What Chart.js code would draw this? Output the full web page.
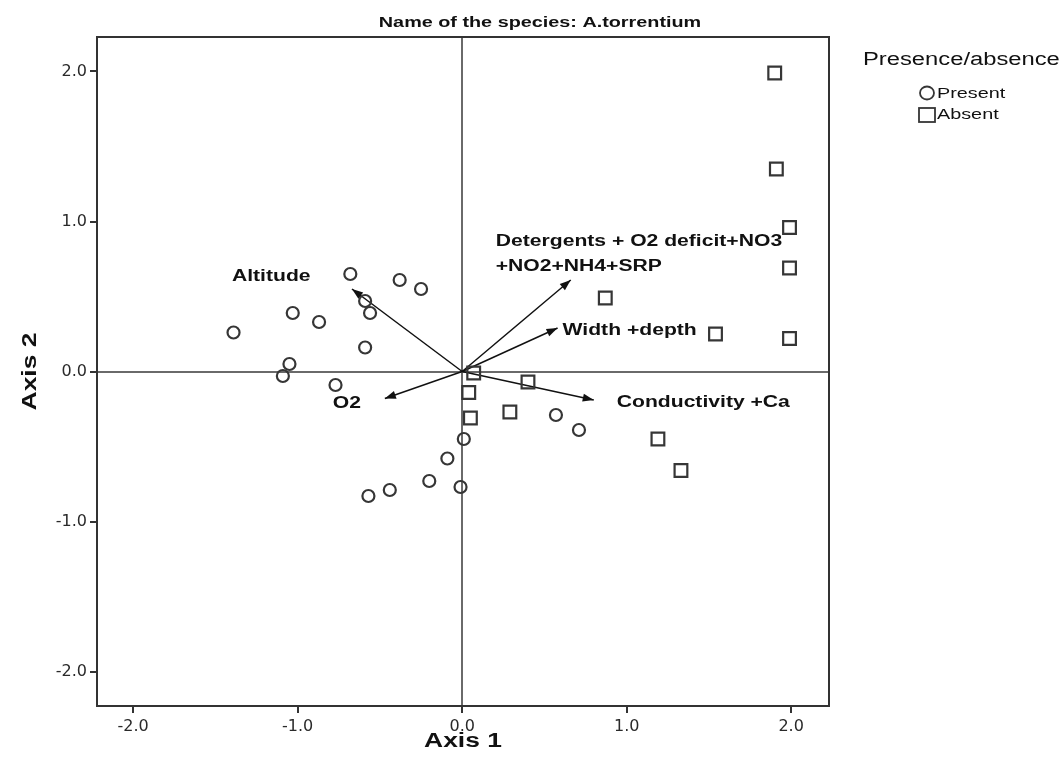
<!DOCTYPE html>
<html>
<head>
<meta charset="utf-8">
<script src="https://cdn.jsdelivr.net/npm/chart.js@4.4.1/dist/chart.umd.min.js"></script>
<style>
  body { margin: 0; background: #fff; }
  #wrap { width: 1064px; height: 777px; position: relative; }
</style>
</head>
<body>
<div id="wrap"><canvas id="chartCanvas"></canvas></div>
<script>
// site scores
const presentX = [-1.39, -1.03, -0.87, -0.68, -0.59, -0.56, -0.38, -0.25, -0.59, -1.05,
                  -1.09, -0.77, 0.01, -0.09, -0.20, -0.01, -0.44, -0.57, 0.57, 0.71];
const presentY = [0.26, 0.39, 0.33, 0.65, 0.47, 0.39, 0.61, 0.55, 0.16, 0.05,
                  -0.03, -0.09, -0.45, -0.58, -0.73, -0.77, -0.79, -0.83, -0.29, -0.39];
const absentX = [1.90, 1.91, 1.99, 1.99, 1.99, 0.87, 1.54, 0.07, 0.40, 0.04, 0.29, 0.05, 1.19, 1.33];
const absentY = [1.99, 1.35, 0.96, 0.69, 0.22, 0.49, 0.25, -0.01, -0.07, -0.14, -0.27, -0.31, -0.45, -0.66];

// environmental vectors
const vectorNames = [
  ['Altitude'],
  ['O2'],
  ['Detergents + O2 deficit+NO3', '+NO2+NH4+SRP'],
  ['Width +depth'],
  ['Conductivity +Ca']
];
const vectorX = [-0.67, -0.47, 0.66, 0.58, 0.80];
const vectorY = [0.55, -0.18, 0.61, 0.29, -0.19];

const xTicks = [-2, -1, 0, 1, 2];
const yTicks = [-2, -1, 0, 1, 2];

// label placement relative to arrow tip (pixels)
const labelOffsets = [[-120, -12], [-52, 5], [-75, -38], [5, 3], [23, 3]];

const SX = 1.32; // the original figure is stretched horizontally
const INK = '#363636';

function drawText(ctx, text, x, y, font, align, angle) {
  ctx.save();
  ctx.translate(x, y);
  if (angle) ctx.rotate(angle);
  ctx.scale(SX, 1);
  ctx.font = font;
  ctx.textAlign = align || 'left';
  ctx.textBaseline = 'middle';
  ctx.fillStyle = '#111';
  ctx.fillText(text, 0, 0);
  ctx.restore();
}

const decor = {
  id: 'decor',
  afterDraw(chart) {
    const ctx = chart.ctx;
    const xs = chart.scales.x, ys = chart.scales.y;
    const area = chart.chartArea;

    // arrow heads and labels
    const x0 = xs.getPixelForValue(0), y0 = ys.getPixelForValue(0);
    vectorNames.forEach((lines, i) => {
      const x1 = xs.getPixelForValue(vectorX[i]);
      const y1 = ys.getPixelForValue(vectorY[i]);
      const a = Math.atan2(y1 - y0, x1 - x0);
      const len = 11, w = 4;
      ctx.beginPath();
      ctx.moveTo(x1, y1);
      ctx.lineTo(x1 - len * Math.cos(a) + w * Math.sin(a), y1 - len * Math.sin(a) - w * Math.cos(a));
      ctx.lineTo(x1 - len * Math.cos(a) - w * Math.sin(a), y1 - len * Math.sin(a) + w * Math.cos(a));
      ctx.closePath();
      ctx.fillStyle = '#111';
      ctx.fill();
      lines.forEach((t, j) => {
        drawText(ctx, t, x1 + labelOffsets[i][0], y1 + labelOffsets[i][1] + j * 25,
          'bold 16px "Liberation Sans", Arial, sans-serif');
      });
    });

    // frame
    ctx.save();
    ctx.strokeStyle = '#333';
    ctx.lineWidth = 2;
    ctx.strokeRect(area.left, area.top, area.right - area.left, area.bottom - area.top);
    ctx.restore();

    // title and axis titles
    drawText(ctx, 'Name of the species: A.torrentium', 540, 23,
      'bold 15px "Liberation Sans", Arial, sans-serif', 'center');
    drawText(ctx, 'Axis 1', (area.left + area.right) / 2, 741,
      'bold 20px "Liberation Sans", Arial, sans-serif', 'center');
    drawText(ctx, 'Axis 2', 30, (area.top + area.bottom) / 2,
      'bold 20px "Liberation Sans", Arial, sans-serif', 'center', -Math.PI / 2);

    // legend
    drawText(ctx, 'Presence/absence', 863, 60, '18px "Liberation Sans", Arial, sans-serif');
    ctx.save();
    ctx.strokeStyle = INK;
    ctx.lineWidth = 1.8;
    ctx.beginPath();
    ctx.ellipse(927, 93, 7, 6.5, 0, 0, Math.PI * 2);
    ctx.stroke();
    ctx.strokeRect(919, 108, 16, 14);
    ctx.restore();
    drawText(ctx, 'Present', 937, 94, '15px "Liberation Sans", Arial, sans-serif');
    drawText(ctx, 'Absent', 937, 115, '15px "Liberation Sans", Arial, sans-serif');
  }
};

const vectorSets = vectorNames.map((n, i) => ({
  label: n.join(' '),
  data: [{ x: 0, y: 0 }, { x: vectorX[i], y: vectorY[i] }],
  showLine: true,
  borderColor: '#111',
  borderWidth: 1.5,
  pointRadius: 0
}));

const tickFont = { family: 'DejaVu Sans', size: 16 };
const gridColor = c => (c.tick && c.tick.value === 0) ? '#6a6a6a' : 'rgba(0,0,0,0)';

new Chart(document.getElementById('chartCanvas'), {
  type: 'scatter',
  data: {
    datasets: [
      {
        label: 'Present',
        data: presentX.map((x, i) => ({ x: x, y: presentY[i] })),
        pointStyle: 'circle',
        pointRadius: 6,
        borderWidth: 2.2,
        borderColor: INK,
        backgroundColor: 'rgba(0,0,0,0)'
      },
      {
        label: 'Absent',
        data: absentX.map((x, i) => ({ x: x, y: absentY[i] })),
        pointStyle: 'rect',
        pointRadius: 9,
        borderWidth: 2.2,
        borderColor: INK,
        backgroundColor: 'rgba(0,0,0,0)'
      },
      ...vectorSets
    ]
  },
  options: {
    responsive: true,
    maintainAspectRatio: false,
    animation: false,
    layout: { padding: { top: 37, right: 235, left: 0, bottom: 0 } },
    plugins: {
      legend: { display: false },
      tooltip: { enabled: false }
    },
    scales: {
      x: {
        type: 'linear',
        min: -2.22,
        max: 2.23,
        afterBuildTicks: s => { s.ticks = xTicks.map(v => ({ value: v })); },
        afterFit: s => { s.height = 71; },
        ticks: { callback: v => v.toFixed(1), font: tickFont, color: '#2a2a2a', padding: 4, maxRotation: 0, autoSkip: false },
        grid: { color: gridColor, lineWidth: 2, tickColor: '#333', tickLength: 7, tickWidth: 2 },
        border: { display: true, color: '#333', width: 2 }
      },
      y: {
        type: 'linear',
        min: -2.23,
        max: 2.23,
        afterBuildTicks: s => { s.ticks = yTicks.map(v => ({ value: v })); },
        afterFit: s => { s.width = 97; },
        ticks: { callback: v => v.toFixed(1), font: tickFont, color: '#2a2a2a', padding: 3, autoSkip: false },
        grid: { color: gridColor, lineWidth: 2, tickColor: '#333', tickLength: 7, tickWidth: 2 },
        border: { display: true, color: '#333', width: 2 }
      }
    }
  },
  plugins: [decor]
});
</script>
</body>
</html>
